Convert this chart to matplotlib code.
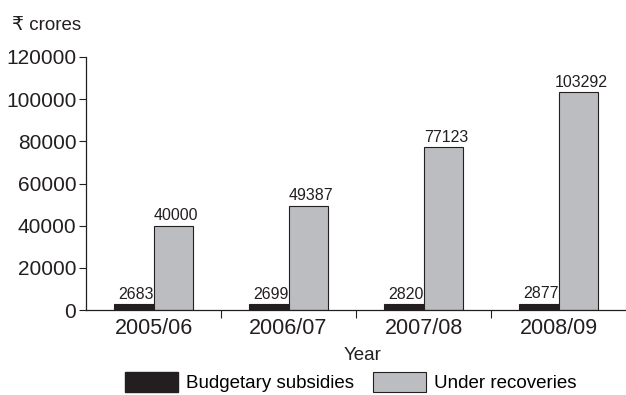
import numpy as np
import matplotlib
matplotlib.use('Agg')
import matplotlib.pyplot as plt
from matplotlib.patches import Patch

plt.rcParams['font.family'] = ['Liberation Sans', 'DejaVu Sans']

# data
years = ['2005/06', '2006/07', '2007/08', '2008/09']
budgetary = [2683, 2699, 2820, 2877]
under_rec = [40000, 49387, 77123, 103292]

black = '#231f20'
grey = '#bcbdc1'

fig = plt.figure(figsize=(6.26, 3.95), dpi=100)
ax = fig.add_axes([86 / 626, 85 / 395, 540 / 626, 253 / 395])

x = np.arange(len(years)) + 0.5
w = 0.295
ax.bar(x - w / 2, budgetary, w, color=black, edgecolor=black, linewidth=0.8)
ax.bar(x + w / 2, under_rec, w, color=grey, edgecolor=black, linewidth=0.8)

# value labels above bars
for xi, v in zip(x - w / 2, budgetary):
    ax.text(xi + 0.02, v + 1200, str(v), ha='center', va='bottom', fontsize=11.5, color=black)
for xi, v in zip(x + w / 2, under_rec):
    ax.text(xi + 0.02, v + 1200, str(v), ha='center', va='bottom', fontsize=11.5, color=black)

ax.set_xlim(0, 4)
ax.set_ylim(0, 120000)
ax.set_yticks(np.arange(0, 120001, 20000))
ax.tick_params(axis='y', labelsize=15, length=5, width=0.8, pad=2, colors=black)
ax.set_xticks([1, 2, 3])
ax.set_xticklabels([])
ax.set_xticks(x, minor=True)
ax.set_xticklabels(years, minor=True)
ax.tick_params(axis='x', which='major', length=6, width=0.8, direction='out', color=black)
ax.tick_params(axis='x', which='minor', length=0, labelsize=15.5, pad=6, colors=black)

for s in ['top', 'right']:
    ax.spines[s].set_visible(False)
for s in ['left', 'bottom']:
    ax.spines[s].set_linewidth(0.9)
    ax.spines[s].set_color(black)

fig.text(12 / 626, 1 - 26 / 395, '₹ crores', fontsize=13.5, va='center', ha='left', color=black)
fig.text(363 / 626, 1 - 355 / 395, 'Year', fontsize=13.5, va='center', ha='center', color=black)

handles = [Patch(facecolor=black, edgecolor=black, label='Budgetary subsidies'),
           Patch(facecolor=grey, edgecolor=black, linewidth=0.8, label='Under recoveries')]
fig.legend(handles=handles, loc='center', bbox_to_anchor=(351 / 626, 13 / 395), ncol=2,
           frameon=False, fontsize=13.5, handlelength=2.8, handleheight=1.3,
           handletextpad=0.45, columnspacing=1.0, borderpad=0, borderaxespad=0)

fig.savefig('out.png', dpi=100)
